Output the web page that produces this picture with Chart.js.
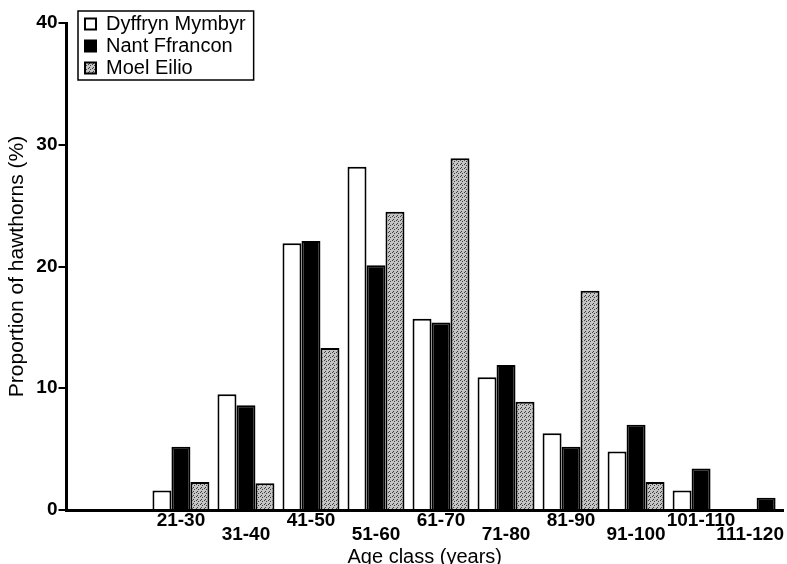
<!DOCTYPE html>
<html>
<head>
<meta charset="utf-8">
<script src="https://cdn.jsdelivr.net/npm/chart.js@4.4.1/dist/chart.umd.min.js"></script>
<style>
  html, body { margin: 0; padding: 0; background: #fff; }
  #wrap { width: 787px; height: 564px; }
</style>
</head>
<body>
<div id="wrap"><canvas id="hawthorns"></canvas></div>
<script>
// age classes (years) and where they sit on the x axis
const ageClasses = ['21-30', '31-40', '41-50', '51-60', '61-70', '71-80', '81-90', '91-100', '101-110', '111-120'];
const classMidpoints = [25, 35, 45, 55, 65, 75, 85, 95, 105, 115];

// proportion of hawthorns (%) per site
const dyffrynMymbyr = [1.6, 9.5, 21.9, 28.2, 15.7, 10.9, 6.3, 4.8, 1.6, 0];
const nantFfrancon  = [5.2, 8.6, 22.1, 20.1, 15.4, 11.9, 5.2, 7.0, 3.4, 1.0];
const moelEilio     = [2.3, 2.2, 13.3, 24.5, 28.9, 8.9, 18.0, 2.3, 0, 0];

const yTicks = [0, 10, 20, 30, 40];

const FONT = "'Liberation Sans', Arial, sans-serif";
Chart.defaults.color = '#000';
Chart.defaults.font.family = FONT;

const canvas = document.getElementById('hawthorns');
const ctx = canvas.getContext('2d');

// stippled grey fill for Moel Eilio bars
function stipple() {
    const tile = document.createElement('canvas');
    tile.width = 4;
    tile.height = 4;
    const g = tile.getContext('2d');
    g.fillStyle = '#c4c4c4';
    g.fillRect(0, 0, 4, 4);
    g.fillStyle = '#3c3c3c';
    g.fillRect(0, 0, 1, 1);
    g.fillRect(2, 1, 1, 1);
    g.fillRect(1, 3, 1, 1);
    return ctx.createPattern(tile, 'repeat');
}

const toPoints = (vals) => classMidpoints.map((x, i) => ({ x: x, y: vals[i] }));

// move legend into the upper left corner and draw a frame round it
const legendFrame = {
    id: 'legendFrame',
    afterLayout(chart) {
        const lg = chart.legend;
        const w = lg.right - lg.left;
        const h = lg.height;
        lg.left = 83;
        lg.right = lg.left + w;
        lg.top = 12;
        lg.bottom = lg.top + h;
    },
    afterDraw(chart) {
        const hb = chart.legend.legendHitBoxes;
        if (!hb || !hb.length) return;
        const c = chart.ctx;
        const left = Math.min(...hb.map(b => b.left)) - 7;
        const top = Math.min(...hb.map(b => b.top)) - 3;
        const right = Math.max(...hb.map(b => b.left + b.width)) + 8;
        const bottom = Math.max(...hb.map(b => b.top + b.height)) + 2;
        c.save();
        c.strokeStyle = '#000';
        c.lineWidth = 1.5;
        c.strokeRect(left, top, right - left, bottom - top);
        c.restore();
    },
    beforeDraw(chart) {
        // last label hugs the right edge like the printed figure
        const x = chart.scales.x;
        const items = x.getLabelItems(chart.chartArea);
        const last = items[items.length - 1];
        if (last) {
            last.options.textAlign = 'right';
            last.options.translation[0] = chart.chartArea.right + 1;
        }
    }
};

new Chart(ctx, {
    type: 'bar',
    data: {
        datasets: [
            {
                label: 'Dyffryn Mymbyr',
                data: toPoints(dyffrynMymbyr),
                backgroundColor: '#fff',
                borderColor: '#000',
                borderWidth: 2
            },
            {
                label: 'Nant Ffrancon',
                data: toPoints(nantFfrancon),
                backgroundColor: '#000',
                borderColor: '#000',
                borderWidth: 2
            },
            {
                label: 'Moel Eilio',
                data: toPoints(moelEilio),
                backgroundColor: stipple(),
                borderColor: '#000',
                borderWidth: 2
            }
        ]
    },
    options: {
        responsive: true,
        maintainAspectRatio: false,
        animation: false,
        categoryPercentage: 0.876,
        barPercentage: 1.0,
        layout: { padding: { top: 23, right: 4, left: 0, bottom: 0 } },
        plugins: {
            tooltip: { enabled: false },
            legend: {
                position: 'chartArea',
                align: 'start',
                labels: {
                    color: '#000',
                    font: { family: FONT, size: 20, lineHeight: 1.0 },
                    boxWidth: 11,
                    boxHeight: 11,
                    padding: 2
                }
            }
        },
        scales: {
            x: {
                type: 'linear',
                offset: false,
                min: 7.4,
                max: 117.6,
                afterBuildTicks: (scale) => {
                    scale.ticks = classMidpoints.map(v => ({ value: v }));
                },
                afterFit: (scale) => {
                    scale.height = 54;
                    scale.paddingLeft = 0;
                    scale.paddingRight = 0;
                },
                grid: { display: false, drawTicks: false },
                border: { display: true, color: '#000', width: 3 },
                ticks: {
                    autoSkip: false,
                    maxRotation: 0,
                    padding: 4,
                    color: '#000',
                    font: { family: FONT, size: 19, weight: 'bold', lineHeight: 0.74 },
                    callback: function (value) {
                        const i = classMidpoints.indexOf(value);
                        if (i < 0) return '';
                        return i % 2 === 0 ? ageClasses[i] : ['', ageClasses[i]];
                    }
                },
                title: {
                    display: true,
                    text: 'Age class (years)',
                    color: '#000',
                    font: { family: FONT, size: 20, lineHeight: 0.7 },
                    padding: 0
                }
            },
            y: {
                min: 0,
                max: 40,
                afterBuildTicks: (scale) => {
                    scale.ticks = yTicks.map(v => ({ value: v }));
                },
                afterFit: (scale) => {
                    scale.width = 66.5;
                },
                grid: {
                    display: true,
                    drawOnChartArea: false,
                    drawTicks: true,
                    tickLength: 8,
                    color: '#000',
                    lineWidth: 2
                },
                border: { display: true, color: '#000', width: 3 },
                ticks: {
                    padding: 1,
                    color: '#000',
                    font: { family: FONT, size: 19, weight: 'bold' }
                },
                title: {
                    display: true,
                    text: 'Proportion of hawthorns (%)',
                    color: '#000',
                    font: { family: FONT, size: 21, lineHeight: 1.2 },
                    padding: { top: 5, bottom: 0 }
                }
            }
        }
    },
    plugins: [legendFrame]
});
</script>
</body>
</html>
